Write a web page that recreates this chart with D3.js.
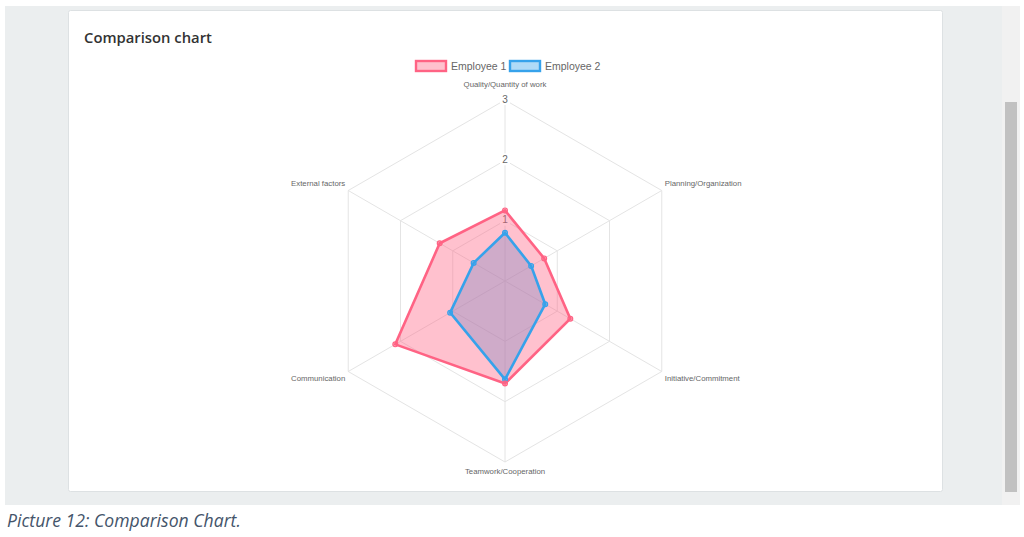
<!DOCTYPE html>
<html><head><meta charset="utf-8">
<script src="https://cdn.jsdelivr.net/npm/d3@7/dist/d3.min.js"></script>
<style>
html,body{margin:0;padding:0;background:#fff;}
svg{display:block;}
</style></head>
<body>
<svg id="chart" width="1024" height="537"></svg>
<script>
// ---- data ----
const categories = ["Quality/Quantity of work","Planning/Organization","Initiative/Commitment","Teamwork/Cooperation","Communication","External factors"];
const seriesNames = ["Employee 1","Employee 2"];
const employee1 = [1.17, 0.75, 1.25, 1.7, 2.1, 1.25];
const employee2 = [0.8, 0.5, 0.77, 1.63, 1.05, 0.6];
const tickValues = [1, 2, 3];
const titleText = "Comparison chart";
const captionText = "Picture 12: Comparison Chart.";

// ---- styles ----
const colors = [
  {stroke:"rgb(255,99,132)", fill:"rgba(255,99,132,0.4)"},
  {stroke:"rgb(54,162,235)", fill:"rgba(54,162,235,0.4)"}
];
const cx = 505, cy = 281, R = 181;

const svg = d3.select("#chart");

// page background panel
svg.append("rect").attr("x",5).attr("y",6).attr("width",1015).attr("height",499).attr("fill","#ebeeef");
// scrollbar track + thumb
svg.append("rect").attr("x",1002).attr("y",6).attr("width",18).attr("height",499).attr("fill","#f1f1f1");
svg.append("rect").attr("x",1005).attr("y",102).attr("width",12).attr("height",390).attr("fill","#c1c1c1");
// card
svg.append("rect").attr("x",68.5).attr("y",10.5).attr("width",874).attr("height",481).attr("rx",2)
  .attr("fill","#fff").attr("stroke","#dde1e3");

// title
svg.append("text").attr("x",84).attr("y",43).text(titleText)
  .attr("font-family","'Open Sans', sans-serif").attr("font-weight",600).attr("font-size",14.8).attr("fill","#333");

// caption
svg.append("text").attr("x",7).attr("y",527).text(captionText)
  .attr("font-family","'Open Sans', sans-serif").attr("font-style","italic").attr("font-size",17.6).attr("fill","#44546a");

// scales
const rScale = d3.scaleLinear().domain([0, 3]).range([0, R]);
const aScale = d3.scaleLinear().domain([0, categories.length]).range([0, 2*Math.PI]);
const pt = (i, v) => [cx + rScale(v)*Math.sin(aScale(i)), cy - rScale(v)*Math.cos(aScale(i))];

const g = svg.append("g");

// grid rings
tickValues.forEach(t => {
  g.append("path")
    .attr("d", d3.line()(categories.map((c,i)=>pt(i,t))) + "Z")
    .attr("fill","none").attr("stroke","#e4e4e4").attr("stroke-width",1);
});
// angle lines
categories.forEach((c,i)=>{
  const p = pt(i, 3);
  g.append("line").attr("x1",cx).attr("y1",cy).attr("x2",p[0]).attr("y2",p[1])
    .attr("stroke","#e4e4e4").attr("stroke-width",1);
});
// tick labels with backdrop
tickValues.forEach(t=>{
  const y = cy - rScale(t) - 1;
  g.append("rect").attr("x",cx-5).attr("y",y-6).attr("width",10).attr("height",12).attr("fill","#fff");
  g.append("text").attr("x",cx).attr("y",y).attr("dy","0.35em").attr("text-anchor","middle")
    .attr("font-family","'Liberation Sans', Arial, sans-serif").attr("font-size",10).attr("fill","#666").text(t);
});
// point labels
categories.forEach((c,i)=>{
  const p = pt(i, 3);
  const s = Math.sin(aScale(i)), co = Math.cos(aScale(i));
  let x = p[0], y = p[1], anchor = "middle";
  if (Math.abs(s) < 0.01) { y = co > 0 ? p[1]-16 : p[1]+9; }
  else {
    anchor = s > 0 ? "start" : "end";
    x = p[0] + (s > 0 ? 3 : -3);
    y = p[1] + (co > 0 ? -7.5 : 6.5);
  }
  g.append("text").attr("x",x).attr("y",y).attr("dy","0.35em").attr("text-anchor",anchor)
    .attr("font-family","'Liberation Sans', Arial, sans-serif").attr("font-size",7.8).attr("fill","#666").text(c);
});

// datasets: fills first (last dataset at bottom), then lines and points
const series = [employee1, employee2];
const radial = d3.line();
const ptsAll = series.map(s => s.map((v,i)=>pt(i,v)));
for (let k = series.length-1; k >= 0; k--) {
  g.append("path").attr("d", radial(ptsAll[k])+"Z").attr("fill", colors[k].fill).attr("stroke","none");
}
for (let k = series.length-1; k >= 0; k--) {
  g.append("path").attr("d", radial(ptsAll[k])+"Z")
    .attr("fill","none").attr("stroke", colors[k].stroke).attr("stroke-width",2.6).attr("stroke-linejoin","miter");
}
for (let k = series.length-1; k >= 0; k--) {
  g.selectAll(null).data(ptsAll[k]).enter().append("circle")
    .attr("cx",d=>d[0]).attr("cy",d=>d[1]).attr("r",2.4)
    .attr("fill", colors[k].fill).attr("stroke", colors[k].stroke).attr("stroke-width",1.2);
}

// legend
const legX = [415, 509];
seriesNames.forEach((n,k)=>{
  svg.append("rect").attr("x",legX[k]+1).attr("y",61).attr("width",30).attr("height",10)
    .attr("fill",colors[k].fill).attr("stroke",colors[k].stroke).attr("stroke-width",2.4);
  svg.append("text").attr("x",legX[k]+36).attr("y",66).attr("dy","0.35em")
    .attr("font-family","'Liberation Sans', Arial, sans-serif").attr("font-size",10.5).attr("fill","#666").text(n);
});
</script>
</body></html>
